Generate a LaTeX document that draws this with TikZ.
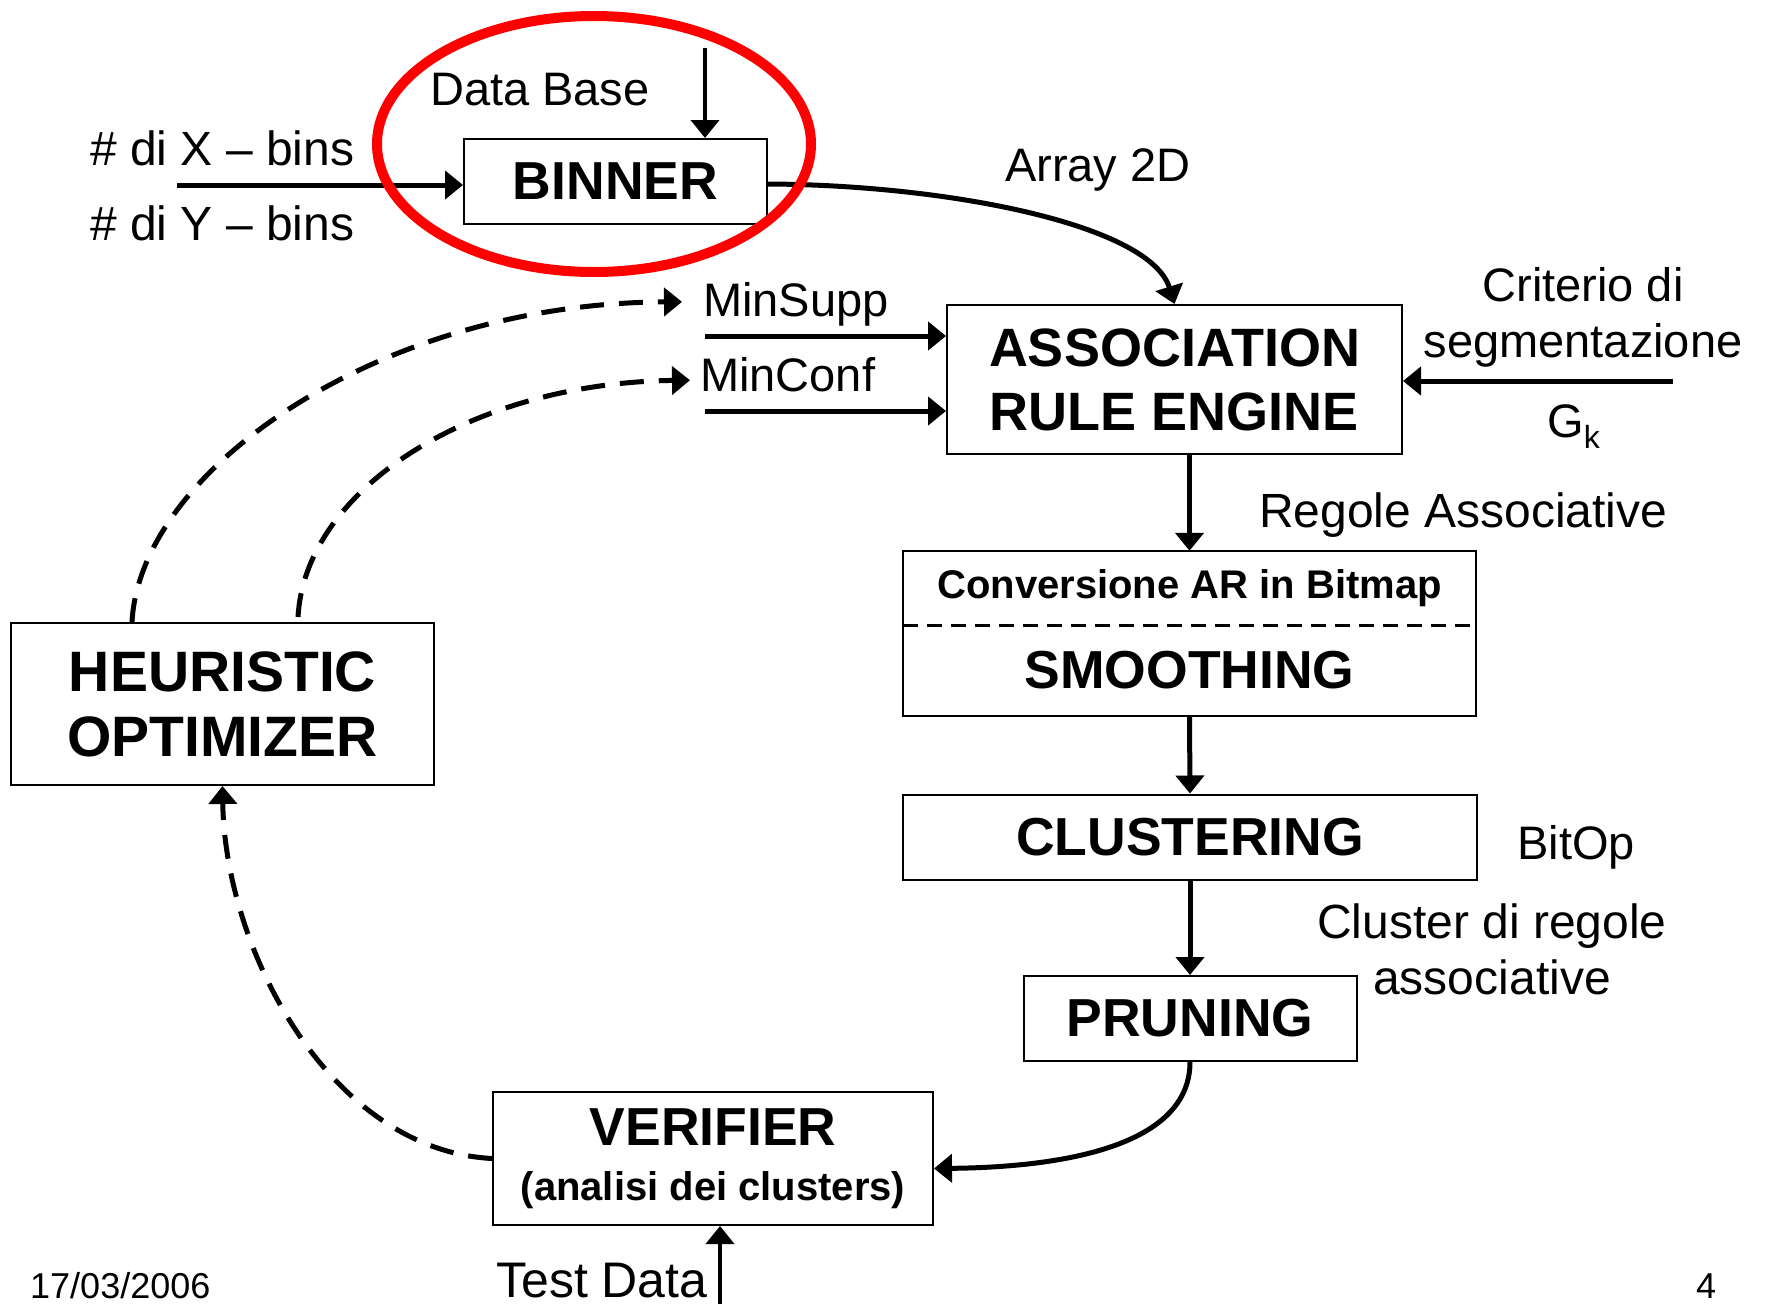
\documentclass[tikz,border=0pt]{standalone}
\usepackage{fontspec}
\setmainfont{Liberation Sans}
\usetikzlibrary{arrows.meta,calc}
\begin{document}
\begin{tikzpicture}[x=1pt,y=-1pt,
  box/.style={draw,line width=2pt,inner sep=0pt,align=center,font=\bfseries\fontsize{53.5}{64}\selectfont},
  lbl/.style={inner sep=0pt,font=\fontsize{47}{57}\selectfont},
  arr/.style={line width=5pt,-{Triangle[length=18pt,width=28pt]}},
  fb/.style={arr,dash pattern=on 24pt off 15pt}]
\useasboundingbox (0,0) rectangle (1767,1304);

% processing blocks
\node[box,minimum width=303pt,minimum height=85pt] (binner) at (615.5,181.5) {BINNER};
\node[box,minimum width=455pt,minimum height=149pt,font=\bfseries\fontsize{54}{64}\selectfont] (are) at (1174.5,379.5) {ASSOCIATION\\RULE ENGINE};
\node[box,minimum width=423pt,minimum height=162pt,font=\bfseries\fontsize{57}{65}\selectfont] (heur) at (222.5,704) {HEURISTIC\\OPTIMIZER};
\node[minimum width=573pt,minimum height=74pt,inner sep=0pt,font=\bfseries\fontsize{40}{48}\selectfont] (conv) at (1189.5,588) {Conversione AR in Bitmap};
\node[minimum width=573pt,minimum height=91pt,inner sep=0pt,font=\bfseries\fontsize{53.5}{64}\selectfont] (smooth) at (1189.5,670.5) {SMOOTHING};
\draw[line width=2pt] (conv.north west) rectangle (smooth.south east);
\draw[line width=3pt,dash pattern=on 15pt off 9pt] (conv.south west) -- (conv.south east);
\node[box,minimum width=574pt,minimum height=85pt] (clust) at (1190,837) {CLUSTERING};
\node[box,minimum width=333pt,minimum height=85pt] (prun) at (1190,1018.5) {PRUNING};
\node[box,minimum width=440pt,minimum height=133pt,font=\bfseries\fontsize{53.5}{55}\selectfont] (verif) at (713,1158.5) {VERIFIER\\{\fontsize{40}{55}\selectfont (analisi dei clusters)}};

% labels
\node[lbl,anchor=base west] (db) at (430,105) {Data Base};
\node[lbl,anchor=base west,font=\fontsize{48}{57}\selectfont] (xb) at (90,165) {\# di X – bins};
\node[lbl,anchor=base west,font=\fontsize{48}{57}\selectfont] (yb) at (90,240) {\# di Y – bins};
\node[lbl,anchor=base west] (a2d) at (1005,181) {Array 2D};
\node[lbl,anchor=base west] (msupp) at (703,316) {MinSupp};
\node[lbl,anchor=base west] (mconf) at (700,391) {MinConf};
\node[lbl,anchor=base] (crit) at (1583,301) {Criterio di};
\node[lbl,anchor=base] (segm) at (1583,357) {segmentazione};
\node[lbl,anchor=base west] (gk) at (1547,437) {G\raisebox{-11pt}{\fontsize{32}{32}\selectfont k}};
\node[lbl,anchor=base west,font=\fontsize{48}{57}\selectfont] (rass) at (1259,527) {Regole Associative};
\node[lbl,anchor=base west] (bitop) at (1517,859) {BitOp};
\node[lbl,anchor=base,font=\fontsize{48}{57}\selectfont] (cdr) at (1492,938) {Cluster di regole};
\node[lbl,anchor=base,font=\fontsize{48}{57}\selectfont] (assoc) at (1492,994) {associative};
\node[lbl,anchor=base west,font=\fontsize{50}{58}\selectfont] (tdata) at (496,1297) {Test Data};
\node[lbl,anchor=base west,font=\fontsize{36}{43}\selectfont] (date) at (30,1298) {17/03/2006};
\node[lbl,anchor=base west,font=\fontsize{36}{43}\selectfont] (pnum) at (1696,1298) {4};

% data flow
\coordinate (dbin) at (705,48);
\draw[arr,line width=4pt] (dbin) -- (dbin |- binner.north);
\coordinate (binsin) at (177,185);
\draw[arr] (binsin) -- (binsin -| binner.west);
\draw[arr] ($(binner.east)+(0,2.5)$) .. controls (950,185) and (1150,225) .. (are.north);
\coordinate (msin) at (705,336);
\draw[arr] (msin) -- (msin -| are.west);
\coordinate (mcin) at (705,411);
\draw[arr] (mcin) -- (mcin -| are.west);
\coordinate (gkin) at (1673,381);
\draw[arr] (gkin) -- (gkin -| are.east);
\draw[arr] (are.south -| conv.north) -- (conv.north);
\draw[arr] (smooth.south) -- (clust.north);
\draw[arr] (clust.south) -- (prun.north);
\draw[arr] (prun.south) .. controls (1190,1140) and (1080,1167) .. ($(verif.east)+(0,10)$);
\coordinate (tdin) at (720,1304);
\draw[arr,line width=4pt] (tdin) -- (tdin |- verif.south);

% feedback loop
\draw[fb] (verif.west) .. controls (330,1150) and (225,950) .. (heur.south);
\draw[fb] ($(heur.north)+(-90.5,0)$) .. controls (140,470) and (380,303) .. ($(msupp.west)+(-21,-2)$);
\draw[fb] ($(heur.north)+(75.5,-5)$) .. controls (305,490) and (470,383) .. ($(mconf.west)+(-10,6)$);

% highlight
\draw[red,line width=10pt] (594,144) ellipse [x radius=217, y radius=128];
\end{tikzpicture}
\end{document}
